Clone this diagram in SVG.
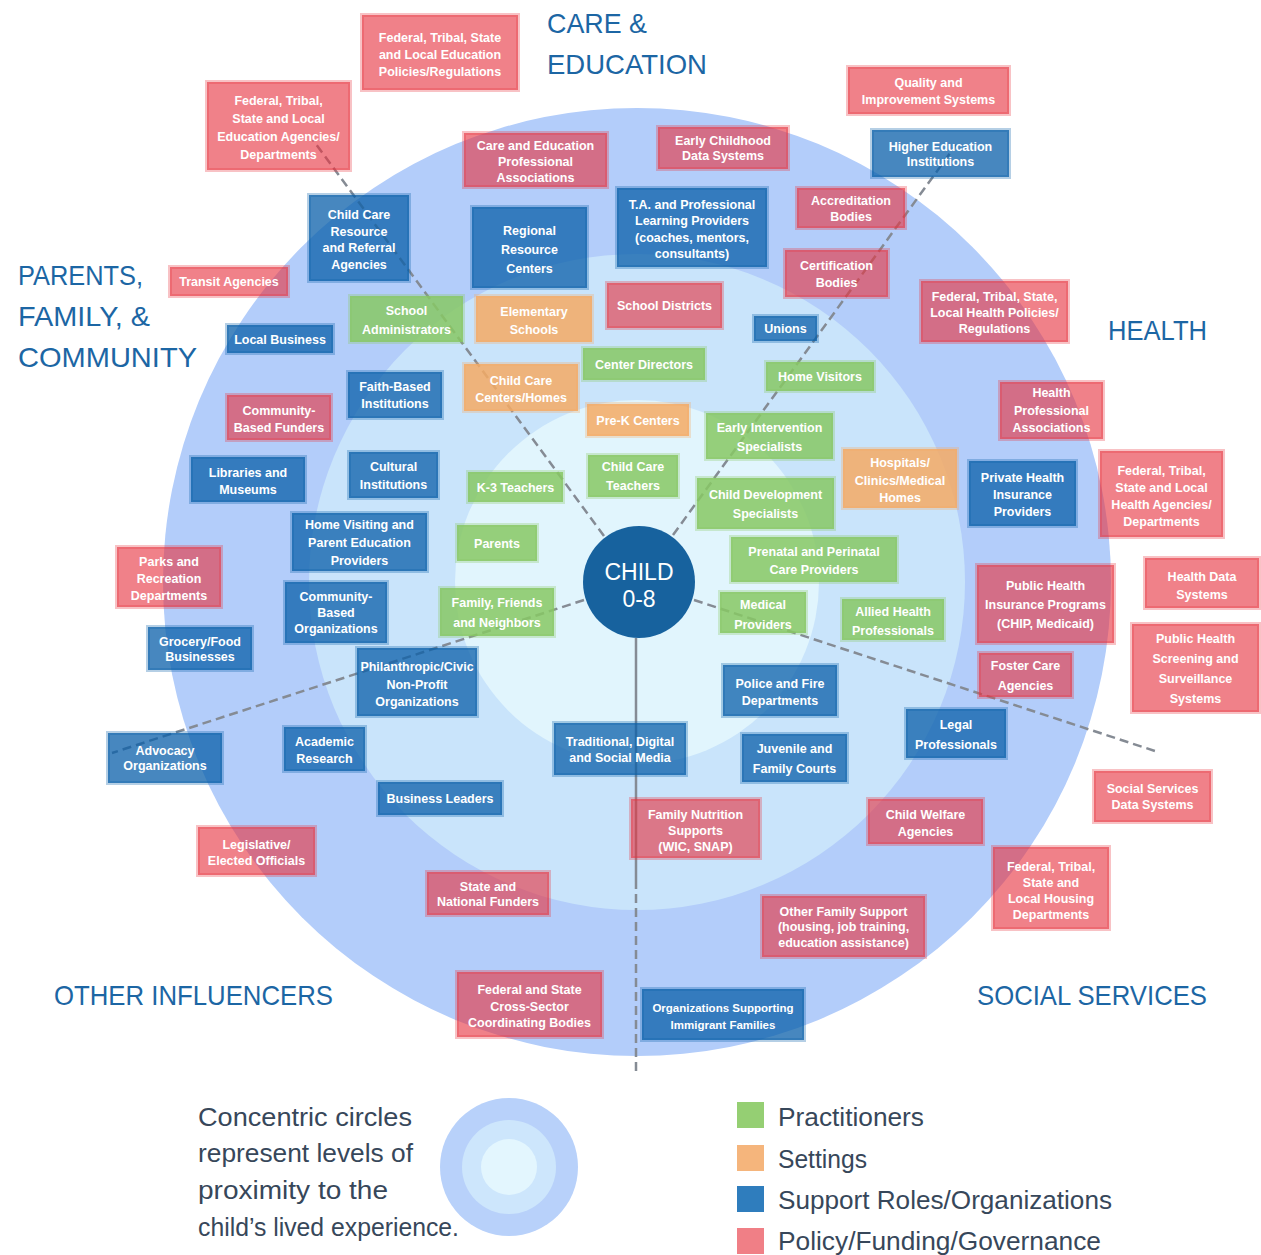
<svg xmlns="http://www.w3.org/2000/svg" width="1261" height="1255" viewBox="0 0 1261 1255">
<style>
.h{font-family:"Liberation Sans",Arial,sans-serif;font-size:28px;fill:#1c66a4}
.lg{font-family:"Liberation Sans",Arial,sans-serif;font-size:25px;fill:#37475a}
.n rect{stroke-width:4;stroke-opacity:.3}
.n text{font-family:"Liberation Sans",Arial,sans-serif;font-size:12.5px;font-weight:bold;fill:#fff;text-anchor:middle}
.pol rect{fill:rgb(231,52,64);fill-opacity:.62;stroke:rgb(231,52,64)}
.sup rect{fill:rgb(10,95,170);fill-opacity:.75;stroke:rgb(10,95,170)}
.prac rect{fill:rgb(135,200,100);fill-opacity:.85;stroke:rgb(135,200,100)}
.set rect{fill:rgb(245,170,100);fill-opacity:.85;stroke:rgb(245,170,100)}
.sm text{font-size:11.5px}
</style>
<rect width="1261" height="1255" fill="#fff"/>
<g id="rings">
<circle cx="637" cy="582" r="474" fill="#b3cdfa"/>
<circle cx="637" cy="582" r="328" fill="#c9e4fb"/>
<circle cx="637" cy="582" r="182" fill="#e1f5fd"/>
</g>
<g id="headings">
<text class="h" x="547" y="33" textLength="100" lengthAdjust="spacingAndGlyphs">CARE &amp;</text>
<text class="h" x="547" y="74" textLength="160" lengthAdjust="spacingAndGlyphs">EDUCATION</text>
<text class="h" x="18" y="285" textLength="125" lengthAdjust="spacingAndGlyphs">PARENTS,</text>
<text class="h" x="18" y="326" textLength="132" lengthAdjust="spacingAndGlyphs">FAMILY, &amp;</text>
<text class="h" x="18" y="367" textLength="179" lengthAdjust="spacingAndGlyphs">COMMUNITY</text>
<text class="h" x="1108" y="340" textLength="99" lengthAdjust="spacingAndGlyphs">HEALTH</text>
<text class="h" x="54" y="1005" textLength="279" lengthAdjust="spacingAndGlyphs">OTHER INFLUENCERS</text>
<text class="h" x="977" y="1005" textLength="230" lengthAdjust="spacingAndGlyphs">SOCIAL SERVICES</text>
</g>
<g id="connectors" fill="none" stroke="#858b94" stroke-width="2.5" stroke-dasharray="9 5">
<line x1="604" y1="536" x2="313" y2="140"/>
<line x1="673" y1="535" x2="956" y2="145"/>
<line x1="694" y1="600" x2="1158" y2="752"/>
<line x1="584" y1="600" x2="112" y2="753"/>
<line x1="636" y1="638" x2="636" y2="880" stroke-dasharray="none"/>
<line x1="636" y1="880" x2="636" y2="1072"/>
</g>
<g id="nodes">
<g id="n-ed-policies" class="n pol"><rect x="362" y="15" width="156" height="75"/><text x="440" y="42"><tspan x="440">Federal, Tribal, State</tspan><tspan x="440" dy="17">and Local Education</tspan><tspan x="440" dy="17">Policies/Regulations</tspan></text></g>
<g id="n-ed-agencies" class="n pol"><rect x="207" y="82" width="143" height="88"/><text x="278.5" y="104.5"><tspan x="278.5">Federal, Tribal,</tspan><tspan x="278.5" dy="18">State and Local</tspan><tspan x="278.5" dy="18">Education Agencies/</tspan><tspan x="278.5" dy="18">Departments</tspan></text></g>
<g id="n-ce-assoc" class="n pol"><rect x="464" y="133" width="143" height="54"/><text x="535.5" y="150"><tspan x="535.5">Care and Education</tspan><tspan x="535.5" dy="16">Professional</tspan><tspan x="535.5" dy="16">Associations</tspan></text></g>
<g id="n-ec-data" class="n pol"><rect x="658" y="127" width="130" height="42"/><text x="723" y="145"><tspan x="723">Early Childhood</tspan><tspan x="723" dy="15">Data Systems</tspan></text></g>
<g id="n-quality" class="n pol"><rect x="848" y="67" width="161" height="47"/><text x="928.5" y="87"><tspan x="928.5">Quality and</tspan><tspan x="928.5" dy="17">Improvement Systems</tspan></text></g>
<g id="n-higher-ed" class="n sup"><rect x="872" y="130" width="137" height="47"/><text x="940.5" y="151"><tspan x="940.5">Higher Education</tspan><tspan x="940.5" dy="15">Institutions</tspan></text></g>
<g id="n-ta" class="n sup"><rect x="617" y="188" width="150" height="79"/><text x="692" y="208.5"><tspan x="692">T.A. and Professional</tspan><tspan x="692" dy="16.5">Learning Providers</tspan><tspan x="692" dy="16.5">(coaches, mentors,</tspan><tspan x="692" dy="16.5">consultants)</tspan></text></g>
<g id="n-accreditation" class="n pol"><rect x="797" y="188" width="108" height="40"/><text x="851" y="205"><tspan x="851">Accreditation</tspan><tspan x="851" dy="16">Bodies</tspan></text></g>
<g id="n-certification" class="n pol"><rect x="785" y="250" width="103" height="47"/><text x="836.5" y="270"><tspan x="836.5">Certification</tspan><tspan x="836.5" dy="17">Bodies</tspan></text></g>
<g id="n-ccrr" class="n sup"><rect x="309" y="195" width="100" height="86"/><text x="359" y="219"><tspan x="359">Child Care</tspan><tspan x="359" dy="16.5">Resource</tspan><tspan x="359" dy="16.5">and Referral</tspan><tspan x="359" dy="16.5">Agencies</tspan></text></g>
<g id="n-regional" class="n sup"><rect x="472" y="207" width="115" height="81"/><text x="529.5" y="235"><tspan x="529.5">Regional</tspan><tspan x="529.5" dy="19">Resource</tspan><tspan x="529.5" dy="19">Centers</tspan></text></g>
<g id="n-school-admin" class="n prac"><rect x="350" y="296" width="113" height="46"/><text x="406.5" y="314.5"><tspan x="406.5">School</tspan><tspan x="406.5" dy="19">Administrators</tspan></text></g>
<g id="n-elementary" class="n set"><rect x="476" y="296" width="116" height="46"/><text x="534" y="316"><tspan x="534">Elementary</tspan><tspan x="534" dy="18">Schools</tspan></text></g>
<g id="n-school-districts" class="n pol"><rect x="607" y="283" width="115" height="45"/><text x="664.5" y="310">School Districts</text></g>
<g id="n-unions" class="n sup"><rect x="754" y="316" width="63" height="25"/><text x="785.5" y="333">Unions</text></g>
<g id="n-center-directors" class="n prac"><rect x="583" y="348" width="122" height="32"/><text x="644" y="368.5">Center Directors</text></g>
<g id="n-home-visitors" class="n prac"><rect x="766" y="362" width="108" height="29"/><text x="820" y="381">Home Visitors</text></g>
<g id="n-cc-centers" class="n set"><rect x="464" y="364" width="114" height="47"/><text x="521" y="385"><tspan x="521">Child Care</tspan><tspan x="521" dy="17">Centers/Homes</tspan></text></g>
<g id="n-prek" class="n set"><rect x="587" y="404" width="102" height="32"/><text x="638" y="424.5">Pre-K Centers</text></g>
<g id="n-ei" class="n prac"><rect x="706" y="413" width="127" height="46"/><text x="769.5" y="432"><tspan x="769.5">Early Intervention</tspan><tspan x="769.5" dy="19">Specialists</tspan></text></g>
<g id="n-cc-teachers" class="n prac"><rect x="588" y="455" width="90" height="42"/><text x="633" y="471"><tspan x="633">Child Care</tspan><tspan x="633" dy="19">Teachers</tspan></text></g>
<g id="n-k3" class="n prac"><rect x="468" y="472" width="95" height="30"/><text x="515.5" y="491.5">K-3 Teachers</text></g>
<g id="n-cd" class="n prac"><rect x="697" y="478" width="137" height="51"/><text x="765.5" y="499"><tspan x="765.5">Child Development</tspan><tspan x="765.5" dy="19">Specialists</tspan></text></g>
<g id="n-parents" class="n prac"><rect x="457" y="525" width="80" height="36"/><text x="497" y="547.5">Parents</text></g>
<g id="n-ffn" class="n prac"><rect x="440" y="588" width="114" height="48"/><text x="497" y="607"><tspan x="497">Family, Friends</tspan><tspan x="497" dy="20">and Neighbors</tspan></text></g>
<g id="n-hospitals" class="n set"><rect x="843" y="449" width="114" height="59"/><text x="900" y="467"><tspan x="900">Hospitals/</tspan><tspan x="900" dy="17.5">Clinics/Medical</tspan><tspan x="900" dy="17.5">Homes</tspan></text></g>
<g id="n-prenatal" class="n prac"><rect x="731" y="537" width="166" height="45"/><text x="814" y="556"><tspan x="814">Prenatal and Perinatal</tspan><tspan x="814" dy="18">Care Providers</tspan></text></g>
<g id="n-medical" class="n prac"><rect x="720" y="592" width="86" height="41"/><text x="763" y="609"><tspan x="763">Medical</tspan><tspan x="763" dy="20">Providers</tspan></text></g>
<g id="n-allied" class="n prac"><rect x="842" y="599" width="102" height="41"/><text x="893" y="616"><tspan x="893">Allied Health</tspan><tspan x="893" dy="19">Professionals</tspan></text></g>
<g id="n-health-policies" class="n pol"><rect x="921" y="281" width="147" height="61"/><text x="994.5" y="301"><tspan x="994.5">Federal, Tribal, State,</tspan><tspan x="994.5" dy="16">Local Health Policies/</tspan><tspan x="994.5" dy="16">Regulations</tspan></text></g>
<g id="n-health-assoc" class="n pol"><rect x="1000" y="382" width="103" height="57"/><text x="1051.5" y="397"><tspan x="1051.5">Health</tspan><tspan x="1051.5" dy="17.5">Professional</tspan><tspan x="1051.5" dy="17.5">Associations</tspan></text></g>
<g id="n-private-ins" class="n sup"><rect x="969" y="461" width="107" height="65"/><text x="1022.5" y="482"><tspan x="1022.5">Private Health</tspan><tspan x="1022.5" dy="17">Insurance</tspan><tspan x="1022.5" dy="17">Providers</tspan></text></g>
<g id="n-health-agencies" class="n pol"><rect x="1100" y="451" width="123" height="86"/><text x="1161.5" y="475"><tspan x="1161.5">Federal, Tribal,</tspan><tspan x="1161.5" dy="17">State and Local</tspan><tspan x="1161.5" dy="17">Health Agencies/</tspan><tspan x="1161.5" dy="17">Departments</tspan></text></g>
<g id="n-public-ins" class="n pol"><rect x="977" y="565" width="137" height="78"/><text x="1045.5" y="590"><tspan x="1045.5">Public Health</tspan><tspan x="1045.5" dy="19">Insurance Programs</tspan><tspan x="1045.5" dy="19">(CHIP, Medicaid)</tspan></text></g>
<g id="n-health-data" class="n pol"><rect x="1145" y="558" width="114" height="50"/><text x="1202" y="581"><tspan x="1202">Health Data</tspan><tspan x="1202" dy="18">Systems</tspan></text></g>
<g id="n-screening" class="n pol"><rect x="1132" y="624" width="127" height="88"/><text x="1195.5" y="642.5"><tspan x="1195.5">Public Health</tspan><tspan x="1195.5" dy="20">Screening and</tspan><tspan x="1195.5" dy="20">Surveillance</tspan><tspan x="1195.5" dy="20">Systems</tspan></text></g>
<g id="n-foster" class="n pol"><rect x="979" y="653" width="93" height="44"/><text x="1025.5" y="669.5"><tspan x="1025.5">Foster Care</tspan><tspan x="1025.5" dy="20">Agencies</tspan></text></g>
<g id="n-police" class="n sup"><rect x="723" y="665" width="114" height="51"/><text x="780" y="688"><tspan x="780">Police and Fire</tspan><tspan x="780" dy="17">Departments</tspan></text></g>
<g id="n-courts" class="n sup"><rect x="742" y="734" width="105" height="48"/><text x="794.5" y="752.5"><tspan x="794.5">Juvenile and</tspan><tspan x="794.5" dy="20">Family Courts</tspan></text></g>
<g id="n-legal" class="n sup"><rect x="906" y="709" width="100" height="49"/><text x="956" y="729"><tspan x="956">Legal</tspan><tspan x="956" dy="20">Professionals</tspan></text></g>
<g id="n-welfare" class="n pol"><rect x="868" y="799" width="115" height="45"/><text x="925.5" y="819"><tspan x="925.5">Child Welfare</tspan><tspan x="925.5" dy="17">Agencies</tspan></text></g>
<g id="n-other-support" class="n pol"><rect x="762" y="896" width="163" height="61"/><text x="843.5" y="915.5"><tspan x="843.5">Other Family Support</tspan><tspan x="843.5" dy="15.5">(housing, job training,</tspan><tspan x="843.5" dy="15.5">education assistance)</tspan></text></g>
<g id="n-ss-data" class="n pol"><rect x="1094" y="771" width="117" height="51"/><text x="1152.5" y="793"><tspan x="1152.5">Social Services</tspan><tspan x="1152.5" dy="16">Data Systems</tspan></text></g>
<g id="n-housing" class="n pol"><rect x="993" y="847" width="116" height="82"/><text x="1051" y="870.5"><tspan x="1051">Federal, Tribal,</tspan><tspan x="1051" dy="16">State and</tspan><tspan x="1051" dy="16">Local Housing</tspan><tspan x="1051" dy="16">Departments</tspan></text></g>
<g id="n-family-nutrition" class="n pol"><rect x="631" y="799" width="129" height="59"/><text x="695.5" y="819"><tspan x="695.5">Family Nutrition</tspan><tspan x="695.5" dy="16">Supports</tspan><tspan x="695.5" dy="16">(WIC, SNAP)</tspan></text></g>
<g id="n-media" class="n sup"><rect x="554" y="723" width="132" height="52"/><text x="620" y="746"><tspan x="620">Traditional, Digital</tspan><tspan x="620" dy="16">and Social Media</tspan></text></g>
<g id="n-philanthropic" class="n sup"><rect x="357" y="648" width="120" height="68"/><text x="417" y="671"><tspan x="417">Philanthropic/Civic</tspan><tspan x="417" dy="17.5">Non-Profit</tspan><tspan x="417" dy="17.5">Organizations</tspan></text></g>
<g id="n-advocacy" class="n sup"><rect x="108" y="733" width="114" height="50"/><text x="165" y="755"><tspan x="165">Advocacy</tspan><tspan x="165" dy="15">Organizations</tspan></text></g>
<g id="n-academic" class="n sup"><rect x="284" y="727" width="81" height="44"/><text x="324.5" y="746"><tspan x="324.5">Academic</tspan><tspan x="324.5" dy="17">Research</tspan></text></g>
<g id="n-business-leaders" class="n sup"><rect x="378" y="782" width="124" height="33"/><text x="440" y="803">Business Leaders</text></g>
<g id="n-legislative" class="n pol"><rect x="198" y="827" width="117" height="48"/><text x="256.5" y="849"><tspan x="256.5">Legislative/</tspan><tspan x="256.5" dy="15.5">Elected Officials</tspan></text></g>
<g id="n-state-funders" class="n pol"><rect x="427" y="872" width="122" height="43"/><text x="488" y="890.5"><tspan x="488">State and</tspan><tspan x="488" dy="15">National Funders</tspan></text></g>
<g id="n-coordinating" class="n pol"><rect x="457" y="972" width="145" height="65"/><text x="529.5" y="994"><tspan x="529.5">Federal and State</tspan><tspan x="529.5" dy="16.5">Cross-Sector</tspan><tspan x="529.5" dy="16.5">Coordinating Bodies</tspan></text></g>
<g id="n-immigrant" class="n sup sm"><rect x="642" y="989" width="162" height="51"/><text x="723" y="1012"><tspan x="723">Organizations Supporting</tspan><tspan x="723" dy="17">Immigrant Families</tspan></text></g>
<g id="n-transit" class="n pol"><rect x="170" y="267" width="118" height="29"/><text x="229" y="286">Transit Agencies</text></g>
<g id="n-local-business" class="n sup"><rect x="227" y="325" width="106" height="28"/><text x="280" y="343.5">Local Business</text></g>
<g id="n-faith" class="n sup"><rect x="348" y="372" width="94" height="46"/><text x="395" y="391"><tspan x="395">Faith-Based</tspan><tspan x="395" dy="17">Institutions</tspan></text></g>
<g id="n-cb-funders" class="n pol"><rect x="227" y="395" width="104" height="45"/><text x="279" y="415"><tspan x="279">Community-</tspan><tspan x="279" dy="17">Based Funders</tspan></text></g>
<g id="n-libraries" class="n sup"><rect x="191" y="457" width="114" height="45"/><text x="248" y="477"><tspan x="248">Libraries and</tspan><tspan x="248" dy="17">Museums</tspan></text></g>
<g id="n-cultural" class="n sup"><rect x="349" y="452" width="89" height="46"/><text x="393.5" y="470.5"><tspan x="393.5">Cultural</tspan><tspan x="393.5" dy="18">Institutions</tspan></text></g>
<g id="n-home-visiting" class="n sup"><rect x="292" y="513" width="135" height="58"/><text x="359.5" y="528.5"><tspan x="359.5">Home Visiting and</tspan><tspan x="359.5" dy="18">Parent Education</tspan><tspan x="359.5" dy="18">Providers</tspan></text></g>
<g id="n-parks" class="n pol"><rect x="117" y="547" width="104" height="60"/><text x="169" y="566"><tspan x="169">Parks and</tspan><tspan x="169" dy="17">Recreation</tspan><tspan x="169" dy="17">Departments</tspan></text></g>
<g id="n-cbo" class="n sup"><rect x="285" y="582" width="102" height="61"/><text x="336" y="601"><tspan x="336">Community-</tspan><tspan x="336" dy="16">Based</tspan><tspan x="336" dy="16">Organizations</tspan></text></g>
<g id="n-grocery" class="n sup"><rect x="148" y="627" width="104" height="43"/><text x="200" y="645.5"><tspan x="200">Grocery/Food</tspan><tspan x="200" dy="15">Businesses</tspan></text></g>
<g id="n-child"><circle cx="639" cy="582" r="56" fill="#17629e"/><text x="639" y="580" font-family="'Liberation Sans',Arial,sans-serif" font-size="23" fill="#fff" text-anchor="middle">CHILD</text><text x="639" y="607" font-family="'Liberation Sans',Arial,sans-serif" font-size="23" fill="#fff" text-anchor="middle">0-8</text></g>
</g>
<g id="legend">
<circle cx="509" cy="1167" r="69" fill="#b8d1fa"/>
<circle cx="509" cy="1167" r="47" fill="#cde6fc"/>
<circle cx="509" cy="1167" r="28" fill="#e3f6fe"/>
<text class="lg" x="198" y="1126" textLength="214" lengthAdjust="spacingAndGlyphs">Concentric circles</text>
<text class="lg" x="198" y="1162" textLength="215" lengthAdjust="spacingAndGlyphs">represent levels of</text>
<text class="lg" x="198" y="1199" textLength="190" lengthAdjust="spacingAndGlyphs">proximity to the</text>
<text class="lg" x="198" y="1236" textLength="261" lengthAdjust="spacingAndGlyphs">child’s lived experience.</text>
<rect x="737" y="1102" width="27" height="26" fill="#95cf73"/>
<rect x="737" y="1145" width="27" height="26" fill="#f5b57c"/>
<rect x="737" y="1186" width="27" height="26" fill="#2f7dbd"/>
<rect x="737" y="1228" width="27" height="26" fill="#f07f86"/>
<text class="lg" x="778" y="1126" textLength="146" lengthAdjust="spacingAndGlyphs">Practitioners</text>
<text class="lg" x="778" y="1168" textLength="89" lengthAdjust="spacingAndGlyphs">Settings</text>
<text class="lg" x="778" y="1209" textLength="334" lengthAdjust="spacingAndGlyphs">Support Roles/Organizations</text>
<text class="lg" x="778" y="1250" textLength="323" lengthAdjust="spacingAndGlyphs">Policy/Funding/Governance</text>
</g>
</svg>
